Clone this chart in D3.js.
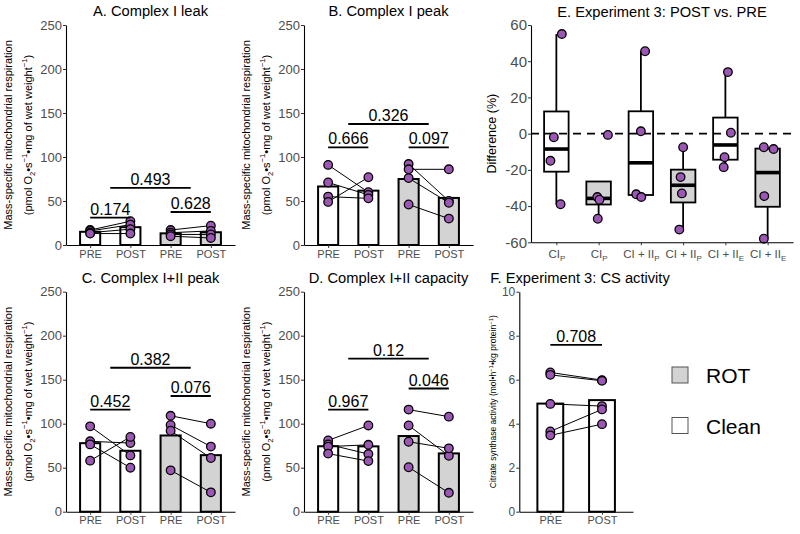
<!DOCTYPE html>
<html>
<head>
<meta charset="utf-8">
<script src="https://cdn.jsdelivr.net/npm/d3@7"></script>
<style>
  body { margin: 0; background: #fff; }
  svg { font-family: "Liberation Sans", Arial, sans-serif; }
</style>
</head>
<body>
<svg width="800" height="534"></svg>
<script>
//Data (paired by index: subject i PRE -> subject i POST)
const conditions = ["cleanPre", "cleanPost", "rotPre", "rotPost"];
const conditionLabels = ["PRE", "POST", "PRE", "POST"];
const respTicks = [0, 50, 100, 150, 200, 250];

// A. Complex I leak
const leakCleanPre = [17, 16, 14, 13];
const leakCleanPost = [27, 23, 18, 13];
const leakRotPre = [17, 14, 12, 10];
const leakRotPost = [22, 16, 12, 8];
const leakP = [["0.174", 0, 1, 31], ["0.628", 2, 3, 37.5], ["0.493", 0.5, 2.5, 65]];

// B. Complex I peak
const peakCleanPre = [91, 71, 55, 49];
const peakCleanPost = [60, 57, 53, 77];
const peakRotPre = [92, 86, 76, 46];
const peakRotPost = [50, 86, 48, 30];
const peakP = [["0.666", 0, 1, 111], ["0.097", 2, 3, 111], ["0.326", 0.5, 2.5, 137.5]];

// C. Complex I+II peak
const c12CleanPre = [97, 80, 76.5, 58];
const c12CleanPost = [64, 78, 50, 85];
const c12RotPre = [109, 98.5, 92, 47];
const c12RotPost = [100, 74, 61, 22];
const c12P = [["0.452", 0, 1, 116], ["0.076", 2, 3, 131.5], ["0.382", 0.5, 2.5, 163.6]];

// D. Complex I+II capacity
const capCleanPre = [81, 76.5, 74, 66];
const capCleanPost = [98, 65.5, 76, 57.5];
const capRotPre = [116, 98, 79.5, 50.5];
const capRotPost = [108, 63.5, 72, 21.5];
const capP = [["0.967", 0, 1, 116], ["0.046", 2, 3, 140], ["0.12", 0.5, 2.5, 174]];

// E. POST vs PRE difference (%)
const diffLabels = ["CI", "CI", "CI + II", "CI + II", "CI + II", "CI + II"];
const diffSubs = ["P", "P", "P", "P", "E", "E"];
const diffGroup = ["clean", "rot", "clean", "rot", "clean", "rot"];
const diffValues = [
  [55, -2, -15, -39],
  [-0.7, -35, -36.5, -47],
  [45.5, 1.3, -33.5, -35],
  [-7.5, -24, -33, -53],
  [34, 0.5, -13, -18.5],
  [-7.5, -8.5, -34.5, -58]
];
const diffJitter = [
  [0.13, -0.06, -0.14, 0.10],
  [0.22, -0.03, 0.02, -0.02],
  [0.10, 0, -0.11, 0.01],
  [0, -0.06, -0.03, -0.09],
  [0.06, 0.13, -0.02, -0.04],
  [-0.09, 0.14, -0.08, -0.09]
];
const diffTicks = [-60, -40, -20, 0, 20, 40, 60];

// F. CS activity
const csConditions = ["pre", "post"];
const csLabels = ["PRE", "POST"];
const csPre = [6.33, 6.22, 4.9, 3.65, 3.47];
const csPost = [5.98, 5.95, 4.8, 4.65, 3.98];
const csP = [["0.708", 0, 1, 7.58]];
const csTicks = [0, 2, 4, 6, 8, 10];

const legendKeys = ["ROT", "Clean"];

//Styles
const fills = { clean: "#ffffff", rot: "#d3d3d3" };
const purple = "#9b57b3";
const tickGrey = "#4d4d4d";

const svg = d3.select("svg");

//Text with sub/superscripts
function richText(sel, parts, size){
  let shift = 0;
  parts.forEach(([txt, kind]) => {
    const t = sel.append("tspan").text(txt);
    let target = 0;
    if (kind === "sub") { target = size * 0.3; t.attr("font-size", size * 0.7); }
    if (kind === "sup") { target = -size * 0.4; t.attr("font-size", size * 0.7); }
    if (target - shift !== 0) t.attr("dy", target - shift);
    shift = target;
  });
}

function styleAxis(ax, fontSize){
  ax.select(".domain").attr("stroke", "#000").attr("stroke-width", 1.1);
  ax.selectAll(".tick line").attr("stroke", "#333");
  ax.selectAll(".tick text").attr("fill", tickGrey).attr("font-size", fontSize)
    .attr("font-family", "'Liberation Sans', Arial, sans-serif");
}

function drawSig(g, x, y, sig){
  const xAt = (i) => x.range()[0] + (x.padding() + i) * x.step();
  sig.forEach(([label, a, b, v]) => {
    g.append("line")
     .attr("x1", xAt(a)).attr("x2", xAt(b))
     .attr("y1", y(v)).attr("y2", y(v))
     .attr("stroke", "#000").attr("stroke-width", 1.8);
    g.append("text")
     .attr("x", (xAt(a) + xAt(b)) / 2).attr("y", y(v) - 3)
     .attr("text-anchor", "middle").attr("font-size", 16)
     .text(label);
  });
}

function drawPoints(g, x, y, keys, series){
  //paired lines first
  for (let k = 0; k < series.length; k += 2) {
    g.selectAll(null).data(series[k]).enter().append("line")
     .attr("x1", x(keys[k])).attr("x2", x(keys[k + 1]))
     .attr("y1", d => y(d)).attr("y2", (d, i) => y(series[k + 1][i]))
     .attr("stroke", "#000").attr("stroke-width", 1);
  }
  series.forEach((s, k) => {
    g.selectAll(null).data(s).enter().append("circle")
     .attr("cx", x(keys[k])).attr("cy", d => y(d)).attr("r", 4.3)
     .attr("fill", purple).attr("stroke", "#000").attr("stroke-width", 1.3);
  });
}

function drawBars(g, x, y, keys, series, fillOf){
  const bw = x.step() * 0.5;
  g.selectAll(null).data(keys).enter().append("rect")
   .attr("x", d => x(d) - bw / 2)
   .attr("y", (d, i) => y(d3.mean(series[i])))
   .attr("width", bw)
   .attr("height", (d, i) => y(0) - y(d3.mean(series[i])))
   .attr("fill", (d, i) => fillOf(i))
   .attr("stroke", "#000").attr("stroke-width", 2);
}

function drawRespPanel(p){
  const g = svg.append("g");
  const x = d3.scalePoint().domain(conditions).range([p.x0, p.x1]).padding(0.6);
  const y = d3.scaleLinear().domain([0, 250]).range([p.y1, p.y0]);

  drawBars(g, x, y, conditions, p.series, i => i < 2 ? fills.clean : fills.rot);
  drawPoints(g, x, y, conditions, p.series);

  const yAx = g.append("g").attr("transform", "translate(" + p.x0 + ",0)")
    .call(d3.axisLeft(y).tickValues(respTicks).tickSize(3).tickSizeOuter(0).tickPadding(1));
  styleAxis(yAx, 13);
  const xAx = g.append("g").attr("transform", "translate(0," + p.y1 + ")")
    .call(d3.axisBottom(x).tickSize(3).tickSizeOuter(0).tickPadding(2)
      .tickFormat((d, i) => conditionLabels[i]));
  styleAxis(xAx, 11);

  drawSig(g, x, y, p.sig);

  g.append("text")
   .attr("x", (p.x0 + p.x1) / 2).attr("y", p.y0 - 9)
   .attr("text-anchor", "middle").attr("font-size", 14.7)
   .text(p.title);

  const cy = (p.y0 + p.y1) / 2;
  g.append("text")
   .attr("transform", "translate(" + (p.x0 - 54.5) + "," + cy + ") rotate(-90)")
   .attr("text-anchor", "middle").attr("font-size", 11)
   .text("Mass-specific mitochondrial respiration");
  const l2 = g.append("text")
   .attr("transform", "translate(" + (p.x0 - 34.5) + "," + cy + ") rotate(-90)")
   .attr("text-anchor", "middle").attr("font-size", 11);
  richText(l2, [["(pmol O", null], ["2", "sub"], ["\u2022s", null], ["\u22121", "sup"],
                ["\u2022mg of wet weight", null], ["\u22121", "sup"], [")", null]], 11);
}

drawRespPanel({ x0: 66, x1: 235, y0: 25, y1: 245, title: "A. Complex I leak",
  series: [leakCleanPre, leakCleanPost, leakRotPre, leakRotPost], sig: leakP });
drawRespPanel({ x0: 304, x1: 473, y0: 25, y1: 245, title: "B. Complex I peak",
  series: [peakCleanPre, peakCleanPost, peakRotPre, peakRotPost], sig: peakP });
drawRespPanel({ x0: 66, x1: 235, y0: 291.7, y1: 511.7, title: "C. Complex I+II peak",
  series: [c12CleanPre, c12CleanPost, c12RotPre, c12RotPost], sig: c12P });
drawRespPanel({ x0: 304, x1: 473, y0: 291.7, y1: 511.7, title: "D. Complex I+II capacity",
  series: [capCleanPre, capCleanPost, capRotPre, capRotPost], sig: capP });

//Panel E: boxplots
(function(){
  const x0 = 531, x1 = 793, y0 = 25, y1 = 242.3;
  const g = svg.append("g");
  const idx = d3.range(diffValues.length);
  const x = d3.scalePoint().domain(idx).range([x0, x1]).padding(0.6);
  const y = d3.scaleLinear().domain([-60, 60]).range([y1, y0]);
  const bw = x.step() * 0.58;

  const stats = diffValues.map(v => {
    const s = v.slice().sort(d3.ascending);
    const q1 = d3.quantile(s, 0.25), med = d3.quantile(s, 0.5), q3 = d3.quantile(s, 0.75);
    const iqr = q3 - q1;
    const inside = s.filter(d => d >= q1 - 1.5 * iqr && d <= q3 + 1.5 * iqr);
    return { q1, med, q3, lo: Math.min(q1, d3.min(inside)), hi: Math.max(q3, d3.max(inside)) };
  });

  g.selectAll(".whisker").data(stats).enter().append("line")
   .attr("x1", (d, i) => x(i)).attr("x2", (d, i) => x(i))
   .attr("y1", d => y(d.hi)).attr("y2", d => y(d.lo))
   .attr("stroke", "#000").attr("stroke-width", 1.8);
  g.selectAll(".box").data(stats).enter().append("rect")
   .attr("x", (d, i) => x(i) - bw / 2).attr("width", bw)
   .attr("y", d => y(d.q3)).attr("height", d => y(d.q1) - y(d.q3))
   .attr("fill", (d, i) => fills[diffGroup[i]])
   .attr("stroke", "#000").attr("stroke-width", 1.8);
  g.selectAll(".median").data(stats).enter().append("line")
   .attr("x1", (d, i) => x(i) - bw / 2).attr("x2", (d, i) => x(i) + bw / 2)
   .attr("y1", d => y(d.med)).attr("y2", d => y(d.med))
   .attr("stroke", "#000").attr("stroke-width", 3.6);

  g.append("line")
   .attr("x1", x0).attr("x2", x1).attr("y1", y(0)).attr("y2", y(0))
   .attr("stroke", "#000").attr("stroke-width", 1.8).attr("stroke-dasharray", "8,6");

  diffValues.forEach((v, i) => {
    g.selectAll(null).data(v).enter().append("circle")
     .attr("cx", (d, j) => x(i) + diffJitter[i][j] * x.step())
     .attr("cy", d => y(d)).attr("r", 4.3)
     .attr("fill", purple).attr("stroke", "#000").attr("stroke-width", 1.3);
  });

  const yAx = g.append("g").attr("transform", "translate(" + x0 + ",0)")
    .call(d3.axisLeft(y).tickValues(diffTicks).tickSize(3).tickSizeOuter(0).tickPadding(1)
      .tickFormat(d => String(d)));
  styleAxis(yAx, 15);
  const xAx = g.append("g").attr("transform", "translate(0," + y1 + ")")
    .call(d3.axisBottom(x).tickSize(3).tickSizeOuter(0).tickPadding(2).tickFormat(""));
  styleAxis(xAx, 11.5);
  xAx.selectAll(".tick").each(function(d){
    const t = d3.select(this).append("text")
      .attr("y", 15.5).attr("text-anchor", "middle")
      .attr("fill", tickGrey).attr("font-size", 11.5);
    richText(t, [[diffLabels[d], null], [diffSubs[d], "sub"]], 11.5);
  });

  g.append("text")
   .attr("x", (x0 + x1) / 2).attr("y", 17).attr("text-anchor", "middle")
   .attr("font-size", 14.7).text("E. Experiment 3: POST vs. PRE");
  g.append("text")
   .attr("transform", "translate(496," + (y0 + y1) / 2 + ") rotate(-90)")
   .attr("text-anchor", "middle").attr("font-size", 12.5)
   .text("Difference (%)");
})();

//Panel F: CS activity
(function(){
  const x0 = 519.3, x1 = 633, y0 = 291.7, y1 = 511.7;
  const g = svg.append("g");
  const x = d3.scalePoint().domain(csConditions).range([x0, x1]).padding(0.6);
  const y = d3.scaleLinear().domain([0, 10]).range([y1, y0]);
  const series = [csPre, csPost];

  drawBars(g, x, y, csConditions, series, () => fills.clean);
  drawPoints(g, x, y, csConditions, series);

  const yAx = g.append("g").attr("transform", "translate(" + x0 + ",0)")
    .call(d3.axisLeft(y).tickValues(csTicks).tickSize(3).tickSizeOuter(0).tickPadding(1));
  styleAxis(yAx, 12);
  const xAx = g.append("g").attr("transform", "translate(0," + y1 + ")")
    .call(d3.axisBottom(x).tickSize(3).tickSizeOuter(0).tickPadding(2)
      .tickFormat((d, i) => csLabels[i]));
  styleAxis(xAx, 11);

  drawSig(g, x, y, csP);

  g.append("text")
   .attr("x", 580).attr("y", y0 - 9).attr("text-anchor", "middle")
   .attr("font-size", 14.7).text("F. Experiment 3: CS activity");
  const lab = g.append("text")
   .attr("transform", "translate(496," + (y0 + y1) / 2 + ") rotate(-90)")
   .attr("text-anchor", "middle").attr("font-size", 8.5);
  richText(lab, [["Citrate synthase activity (mol\u2022h", null], ["\u22121", "sup"],
                 ["\u2022kg protein", null], ["\u22121", "sup"], [")", null]], 8.5);
})();

//Legend
const legend = svg.append("g").attr("transform", "translate(672,367)");
legendKeys.forEach((k, i) => {
  legend.append("rect")
    .attr("x", 0).attr("y", i * 50.5).attr("width", 16).attr("height", 16)
    .attr("fill", k === "ROT" ? fills.rot : fills.clean)
    .attr("stroke", "#555").attr("stroke-width", 1);
  legend.append("text")
    .attr("x", 34).attr("y", i * 50.5 + 16).attr("font-size", 21)
    .text(k);
});
</script>
</body>
</html>
